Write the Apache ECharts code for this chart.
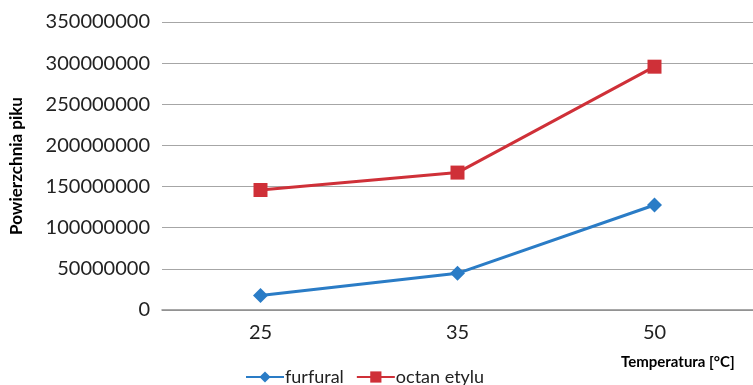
<!DOCTYPE html>
<html><head><meta charset="utf-8">
<script src="https://cdn.jsdelivr.net/npm/echarts@6/dist/echarts.min.js"></script>
<style>html,body{margin:0;padding:0;background:#fff}#c{width:753px;height:385px}</style>
</head><body><div id="c"></div>
<script>
const categories = ['25', '35', '50'];
const furfural = [17500000, 44600000, 127600000];
const octanEtylu = [145800000, 167000000, 295700000];
const yTicks = { min: 0, max: 350000000, interval: 50000000 };
const seriesNames = ['furfural', 'octan etylu'];

const FONT = 'Lato';
const chart = echarts.init(document.getElementById('c'));
chart.setOption({
  animation: false,
  textStyle: { fontFamily: FONT },
  title: {
    text: 'Temperatura [°C]', left: 616, top: 350,
    textStyle: { fontFamily: FONT, fontSize: 15, fontWeight: 'bold', color: '#000' }
  },
  legend: {
    left: 240, top: 363, itemWidth: 38, itemHeight: 14, itemGap: 12,
    textStyle: { fontFamily: FONT, fontSize: 18, color: '#222', padding: [0,0,0,-4] },
    data: seriesNames
  },
  grid: { left: 160, width: 599, top: 22, bottom: 75 },
  xAxis: {
    type: 'category', data: categories, boundaryGap: true,
    axisTick: { show: false },
    axisLine: { lineStyle: { color: '#8c8c8c', width: 1.5 } },
    axisLabel: { fontFamily: FONT, fontSize: 20, color: '#222', margin: 13 }
  },
  yAxis: {
    type: 'value', min: yTicks.min, max: yTicks.max, interval: yTicks.interval,
    name: 'Powierzchnia piku', nameLocation: 'middle', nameGap: 137,
    nameTextStyle: { fontFamily: FONT, fontSize: 17, fontWeight: 'bold', color: '#000' },
    axisLine: { show: false }, axisTick: { show: false },
    axisLabel: { fontFamily: FONT, fontSize: 20, color: '#222', margin: 12,
      formatter: v => String(v) },
    splitLine: { lineStyle: { color: '#a6a6a6', width: 1.2 } }
  },
  series: [
    { name: seriesNames[0], type: 'line', data: furfural, symbol: 'diamond', symbolSize: 15,
      itemStyle: { color: '#2a7cc6' }, lineStyle: { width: 3, color: '#2a7cc6' } },
    { name: seriesNames[1], type: 'line', data: octanEtylu, symbol: 'rect', symbolSize: 14,
      itemStyle: { color: '#cf3038' }, lineStyle: { width: 3, color: '#cf3038' } }
  ]
});
</script></body></html>
